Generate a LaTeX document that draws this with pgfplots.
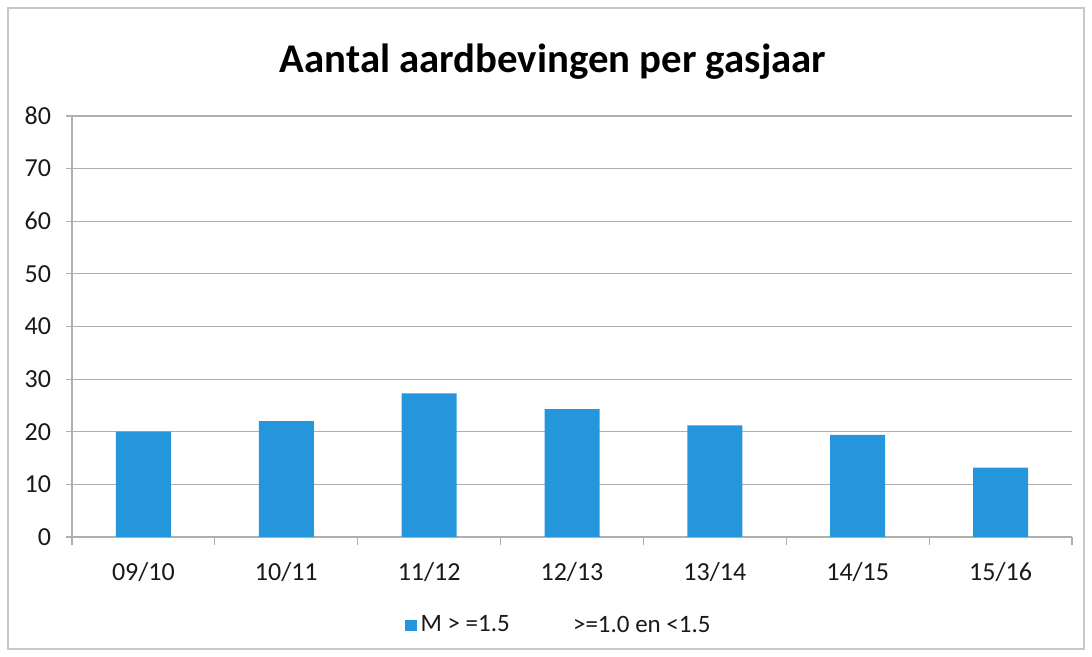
\documentclass[border=0pt]{standalone}
\usepackage{pgfplots}
\pgfplotsset{compat=1.18}
\usepackage{fontspec}
\setmainfont{Carlito}
\definecolor{barblue}{RGB}{38,150,220}
\definecolor{gridgray}{RGB}{175,175,175}
\definecolor{txt}{RGB}{25,25,25}
\begin{document}
\begin{tikzpicture}
\useasboundingbox (0,0) rectangle (546pt,328.5pt);
\draw[gridgray!70, line width=0.6pt] (4pt,4pt) rectangle (542pt,324.5pt);
\node[font=\fontsize{20.4}{22}\selectfont\bfseries, text=black] at (276.5pt,297.5pt) {Aantal aardbevingen per gasjaar};
\begin{axis}[
  at={(36pt,60pt)}, anchor=south west,
  scale only axis, width=500pt, height=210.5pt,
  xmin=-0.5, xmax=6.5, ymin=0, ymax=80,
  ytick={0,10,...,80},
  xtick={0,...,6},
  xticklabels={09/10,10/11,11/12,12/13,13/14,14/15,15/16},
  minor xtick={-0.5,0.5,...,6.5},
  major x tick style={draw=none},
  minor x tick style={gridgray, line width=0.6pt},
  minor tick length=4pt,
  major tick length=3pt,
  tick align=outside,
  axis x line*=bottom, axis y line*=left,
  axis line style={gridgray, line width=0.6pt},
  y tick style={gridgray, line width=0.6pt},
  ymajorgrids, grid style={gridgray, line width=0.6pt},
  ticklabel style={font=\fontsize{13}{15}\selectfont, text=txt},
  /pgf/number format/assume math mode=true,
  xticklabel style={yshift=-6pt},
  yticklabel style={xshift=-4pt},
  ybar, bar width=27.5pt,
  legend columns=2,
  legend style={at={(0.488,-0.21)}, anchor=center, draw=none, fill=none,
    font=\fontsize{12.5}{14}\selectfont, text=txt,
    /tikz/every even column/.append style={column sep=22pt}},
  legend image code/.code={\fill[#1] (0pt,-2.8pt) rectangle (5.6pt,2.8pt);},
]
\addplot[fill=barblue, draw=none] coordinates {(0,20) (1,22) (2,27.3) (3,24.3) (4,21.2) (5,19.4) (6,13.2)};
\addlegendentry{M > =1.5}
\addlegendimage{fill=white, draw=none}
\addlegendentry{>=1.0 en <1.5}
\end{axis}
\end{tikzpicture}
\end{document}
